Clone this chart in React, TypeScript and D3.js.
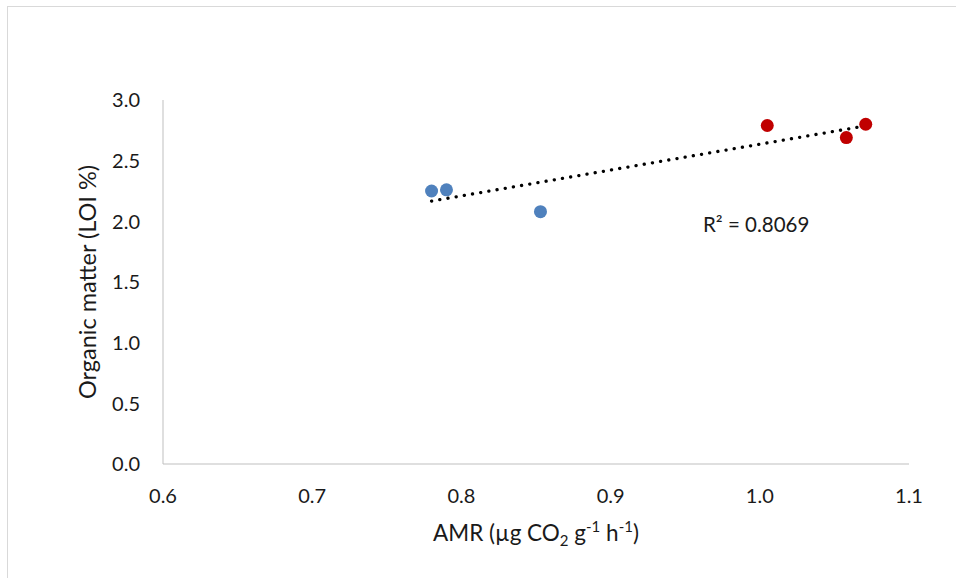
import React from 'react';
import * as d3 from 'd3';

// AMR (x) vs organic matter (y)
const blueX = [0.780, 0.790, 0.853];
const blueY = [2.25, 2.26, 2.08];
const redX = [1.005, 1.058, 1.071];
const redY = [2.79, 2.69, 2.80];
const xTicks = [0.6, 0.7, 0.8, 0.9, 1.0, 1.1];
const yTicks = [0.0, 0.5, 1.0, 1.5, 2.0, 2.5, 3.0];
const r2Label = 'R² = 0.8069';

const W = 956;
const H = 578;
const FONT = 'Lato, "Open Sans", sans-serif';

const App: React.FC = () => {
  const x = d3.scaleLinear().domain([0.6, 1.1]).range([163, 909]);
  const y = d3.scaleLinear().domain([0, 3]).range([464, 100]);

  const allX = [...blueX, ...redX];
  const allY = [...blueY, ...redY];
  const mx = d3.mean(allX) as number;
  const my = d3.mean(allY) as number;
  const sxy = d3.sum(allX.map((v, i) => (v - mx) * (allY[i] - my)));
  const sxx = d3.sum(allX.map(v => (v - mx) ** 2));
  const slope = sxy / sxx;
  const icpt = my - slope * mx;
  const [x0, x1] = d3.extent(allX) as [number, number];
  const trend = d3.line<number>()
    .x(d => x(d))
    .y(d => y(icpt + slope * d))([x0, x1]);

  return (
    <svg width={W} height={H} style={{ position: 'absolute', left: 0, top: 0, background: '#fff' }}>
      <rect x={7.5} y={6.5} width={1000} height={1000} fill="#fff" stroke="#d9d9d9" strokeWidth={1} />

      {/* axes */}
      <line x1={x(0.6)} x2={x(0.6)} y1={y(3)} y2={y(0)} stroke="#bfbfbf" strokeWidth={1} />
      <line x1={x(0.6)} x2={x(1.1)} y1={y(0)} y2={y(0)} stroke="#bfbfbf" strokeWidth={1} />

      {yTicks.map(t => (
        <text key={'y' + t} x={140} y={y(t)} dy="0.36em" textAnchor="end"
          fontFamily={FONT} fontSize={20} fill="#1a1a1a">{t.toFixed(1)}</text>
      ))}
      {xTicks.map(t => (
        <text key={'x' + t} x={x(t)} y={503} textAnchor="middle"
          fontFamily={FONT} fontSize={20} fill="#1a1a1a">{t.toFixed(1)}</text>
      ))}

      {/* trendline */}
      <path d={trend || ''} fill="none" stroke="#000" strokeWidth={3.3}
        strokeLinecap="round" strokeDasharray="0.1 8.2" />

      {blueX.map((v, i) => (
        <circle key={'b' + i} cx={x(v)} cy={y(blueY[i])} r={6.5} fill="#4f81bd" />
      ))}
      {redX.map((v, i) => (
        <circle key={'r' + i} cx={x(v)} cy={y(redY[i])} r={6.5} fill="#c00000" />
      ))}

      <text x={703} y={232} fontFamily={FONT} fontSize={20.5} fill="#1a1a1a">{r2Label}</text>

      {/* axis titles */}
      <text x={536} y={541} textAnchor="middle" fontFamily={FONT} fontSize={22.5} fill="#1a1a1a">
        AMR (µg CO<tspan fontSize={15} dy={5}>2</tspan>
        <tspan dy={-5}> g</tspan><tspan fontSize={15} dy={-9}>-1</tspan>
        <tspan dy={9}> h</tspan><tspan fontSize={15} dy={-9}>-1</tspan>
        <tspan dy={9}>)</tspan>
      </text>
      <text transform={`translate(96,${(y(3) + y(0)) / 2}) rotate(-90)`} textAnchor="middle"
        fontFamily={FONT} fontSize={23.5} fill="#1a1a1a">Organic matter (LOI %)</text>
    </svg>
  );
};

export default App;
